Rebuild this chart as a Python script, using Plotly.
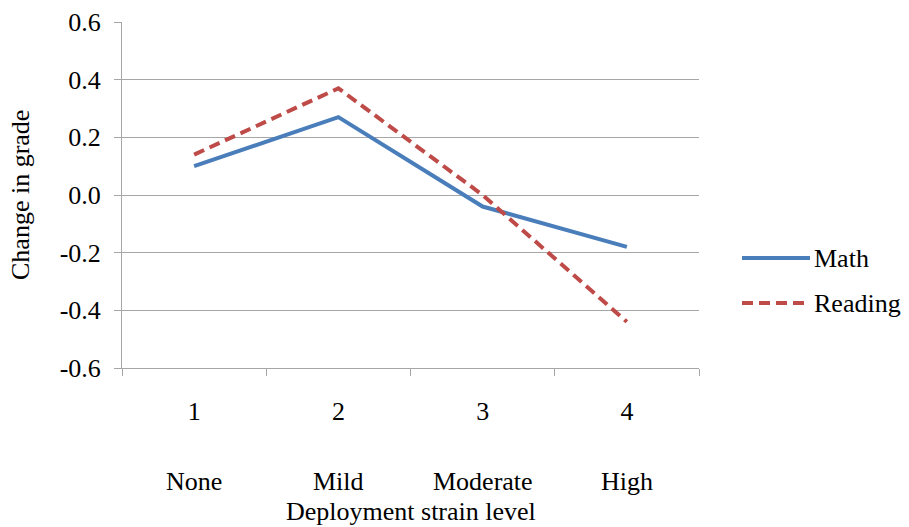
import plotly.graph_objects as go

# Data
levels = ["1", "2", "3", "4"]
level_names = ["None", "Mild", "Moderate", "High"]
math = [0.10, 0.27, -0.04, -0.18]
reading = [0.14, 0.37, 0.00, -0.44]
y_ticks = [-0.6, -0.4, -0.2, 0.0, 0.2, 0.4, 0.6]

FONT = "Liberation Serif, Times New Roman, serif"
FS = 26
BLUE = "#4A7EBB"
RED = "#BE4B48"
GRID = "#A6A6A6"

fig = go.Figure()
fig.add_trace(go.Scatter(x=levels, y=math, mode="lines", name="Math",
                         line=dict(color=BLUE, width=4)))
fig.add_trace(go.Scatter(x=levels, y=reading, mode="lines", name="Reading",
                         line=dict(color=RED, width=4, dash="11px,6px")))

# Second row of category labels under the numeric ticks
# (category axis positions are the category indices)
for i, nm in enumerate(level_names):
    fig.add_annotation(x=i, xref="x", y=0, yref="paper", text=nm,
                       showarrow=False, yanchor="middle", yshift=-113,
                       font=dict(family=FONT, size=FS, color="#000"))

# Axis titles
fig.add_annotation(x=0.5, xref="paper", y=0, yref="paper",
                   text="Deployment strain level", showarrow=False,
                   yanchor="middle", yshift=-143,
                   font=dict(family=FONT, size=FS, color="#000"))
fig.add_annotation(x=0, xref="paper", y=0.5, yref="paper",
                   text="Change in grade", showarrow=False, textangle=-90,
                   xanchor="center", xshift=-102,
                   font=dict(family=FONT, size=FS, color="#000"))

# Legend drawn to the right of the plot area
legend_items = [("Math", BLUE, "solid", 258), ("Reading", RED, "11px,6px", 303)]
for name, color, dash, ypx in legend_items:
    yp = 1 - (ypx - 22) / 346
    fig.add_shape(type="line", xref="paper", yref="paper",
                  x0=(742 - 122) / 577, x1=(810 - 122) / 577, y0=yp, y1=yp,
                  line=dict(color=color, width=4, dash=dash))
    fig.add_annotation(x=(812 - 122) / 577, xref="paper", y=yp, yref="paper",
                       text=name, showarrow=False, xanchor="left",
                       yanchor="middle",
                       font=dict(family=FONT, size=FS, color="#000"))

fig.update_layout(
    width=909, height=527,
    margin=dict(l=122, r=210, t=22, b=159),
    paper_bgcolor="white", plot_bgcolor="white",
    showlegend=False,
    font=dict(family=FONT, size=FS, color="#000"),
)
fig.update_xaxes(type="category", categoryorder="array", categoryarray=levels,
                 range=[-0.5, 3.5], showgrid=False, showline=True,
                 linecolor=GRID, linewidth=1, ticks="outside", ticklen=7,
                 tickcolor=GRID, tickson="boundaries", automargin=False,
                 tickfont=dict(family=FONT, size=FS, color="#000"),
                 ticklabelstandoff=20)
fig.update_yaxes(range=[-0.6, 0.6], tickvals=y_ticks,
                 ticktext=[f"{v:.1f}" for v in y_ticks],
                 showgrid=True, gridcolor=GRID, gridwidth=1, zeroline=False,
                 showline=True, linecolor=GRID, linewidth=1,
                 ticks="outside", ticklen=7, tickcolor=GRID, automargin=False,
                 tickfont=dict(family=FONT, size=FS, color="#000"),
                 ticklabelstandoff=8)

fig.write_html("out.html")
